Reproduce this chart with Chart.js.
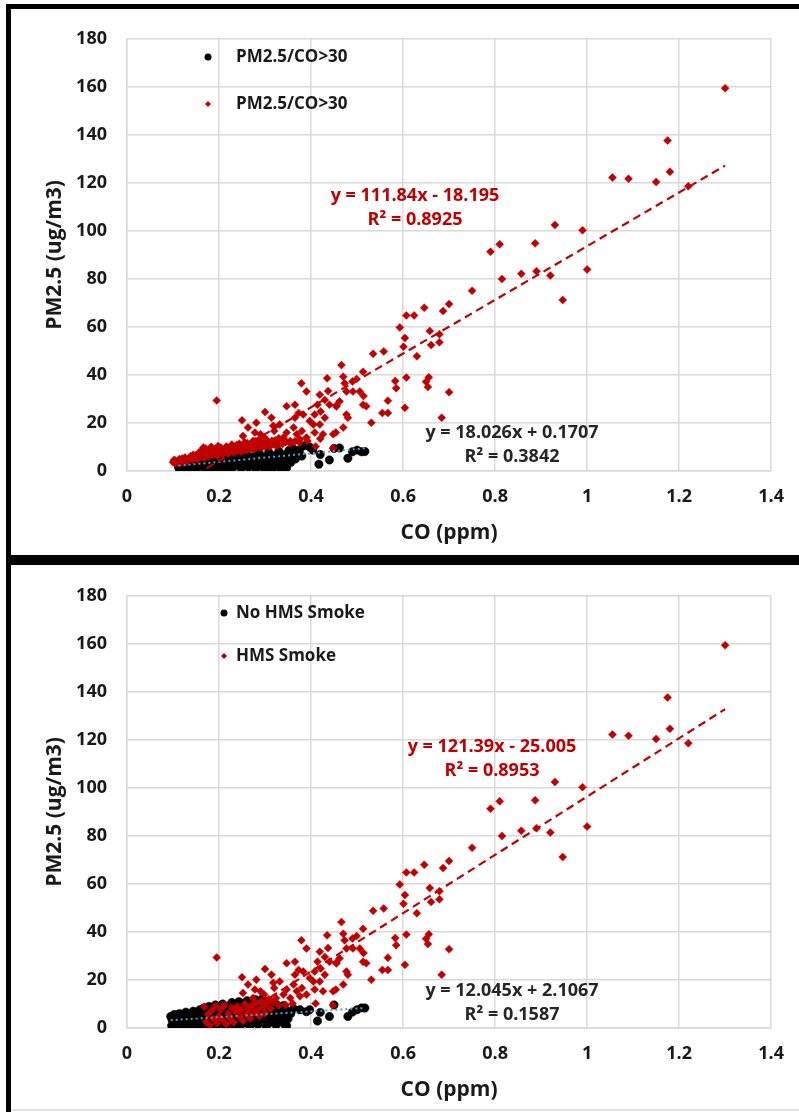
<!DOCTYPE html>
<html>
<head>
<meta charset="utf-8">
<script src="https://cdn.jsdelivr.net/npm/chart.js@4.4.1/dist/chart.umd.min.js"></script>
<style>
  body { margin: 0; background: #fff; width: 799px; height: 1112px; position: relative; overflow: hidden; }
  .band { position: absolute; background: #000; }
  .panel { position: absolute; left: 11px; }
</style>
</head>
<body>
<div class="panel" style="top:8px"><canvas id="topChart" width="788" height="547"></canvas></div>
<div class="panel" style="top:565px"><canvas id="bottomChart" width="788" height="547"></canvas></div>
<div class="band" style="left:6px;top:4px;width:793px;height:5px"></div>
<div class="band" style="left:6px;top:4px;width:5px;height:1108px"></div>
<div class="band" style="left:6px;top:555px;width:793px;height:10px"></div>
<div style="position:absolute;left:11px;top:1109px;width:788px;height:2px;background:#e2e2e2"></div>

<script>
// smoke-affected points above the dense cluster (same in both panels)
const smokeHigh = [
  [1.300,159.4],[1.175,137.6],[1.180,124.6],[1.150,120.4],[1.220,118.6],[1.055,122.2],[1.090,121.7],
  [0.930,102.5],[0.990,100.3],[0.887,94.8],[0.810,94.4],[0.790,91.3],[1.000,83.9],[0.815,80.0],
  [0.857,82.1],[0.890,83.2],[0.920,81.4],[0.947,71.2],[0.750,75.1],[0.700,69.5],[0.687,66.6],
  [0.646,68.0],[0.624,64.8],[0.607,64.8],[0.593,59.8],[0.604,55.4],[0.601,51.7],[0.630,47.8],
  [0.658,58.3],[0.679,57.0],[0.679,53.6],[0.661,52.5],[0.607,38.9],[0.656,39.0],[0.650,37.2],
  [0.654,35.0],[0.700,32.8],[0.604,26.3],[0.684,22.2],
  [0.535,48.8],[0.558,49.8],[0.583,37.5],[0.585,34.5],[0.567,29.3],[0.555,24.2],[0.567,24.2],
  [0.531,20.1],[0.513,27.6],[0.520,27.0],[0.514,31.2],[0.506,33.1],[0.513,41.3],[0.499,38.3],
  [0.490,37.3],[0.491,33.1],[0.466,44.1],[0.470,39.3],[0.473,36.5],[0.477,33.1],[0.462,29.0],
  [0.455,27.3],[0.477,23.5],[0.480,22.2],[0.470,18.1],[0.448,15.3],[0.454,16.0],[0.435,38.6],
  [0.437,33.3],[0.430,29.6],[0.440,27.6],[0.455,26.9],[0.419,31.8],[0.414,27.6],[0.421,24.8],
  [0.408,23.5],[0.430,22.2],[0.419,19.4],[0.405,19.4],[0.426,15.3],[0.408,16.0],[0.379,36.5],
  [0.390,33.1],[0.365,27.6],[0.347,27.0],[0.373,24.2],[0.383,23.5],[0.365,22.2],[0.397,20.8],
  [0.362,18.1],[0.380,16.7],[0.347,16.0],[0.369,15.3],[0.340,13.9],[0.355,12.5],[0.376,13.2],
  [0.390,13.9],[0.300,24.6],[0.314,22.2],[0.318,18.8],[0.320,16.7],[0.332,19.4],[0.281,20.1],
  [0.250,21.1],[0.195,29.4],[0.263,18.1],[0.252,14.6],[0.278,16.0],[0.290,15.3],[0.298,13.9],
  [0.274,12.5],[0.448,9.5],[0.410,10.2]
];

// top panel: low-CO points with ratio above 30 (red)
const ratioHighLow = [
  [0.100,3.6],[0.102,4.6],[0.105,3.2],[0.110,4.1],[0.114,5.0],[0.118,3.9],[0.122,4.5],[0.126,5.6],
  [0.130,4.2],[0.134,5.0],[0.138,6.1],[0.142,4.6],[0.146,5.5],[0.150,6.6],[0.153,4.9],[0.156,7.6],
  [0.159,5.8],[0.162,8.6],[0.165,6.7],[0.168,5.4],[0.171,9.4],[0.174,7.6],[0.177,6.0],[0.180,8.5],
  [0.183,10.1],[0.186,6.6],[0.189,7.8],[0.192,9.2],[0.196,6.3],[0.200,8.4],[0.204,9.8],[0.208,7.0],
  [0.212,8.8],[0.216,10.2],[0.220,7.2],[0.224,9.2],[0.228,11.0],[0.232,7.6],[0.236,9.6],[0.240,8.3],
  [0.244,11.4],[0.248,8.0],[0.252,10.2],[0.256,12.0],[0.260,8.6],[0.264,10.6],[0.268,9.2],[0.272,11.4],
  [0.276,9.0],[0.280,12.4],[0.284,10.0],[0.288,11.2],[0.292,9.6],[0.296,12.8],[0.300,10.4],[0.305,11.8],
  [0.310,10.0],[0.315,12.6],[0.320,11.0],[0.326,10.4],[0.332,12.2],[0.338,11.2],[0.345,12.0],[0.355,11.4],
  [0.365,12.4],[0.375,11.8],[0.392,12.5],[0.420,13.4],
  [0.105,4.4],[0.112,3.4],[0.120,5.2],[0.128,4.0],[0.136,5.4],[0.144,6.8],[0.152,5.8],[0.160,7.0],
  [0.166,9.8],[0.172,6.4],[0.178,7.2],[0.186,9.0],[0.194,7.4],[0.198,10.4],[0.206,8.4],[0.214,9.4],
  [0.222,8.2],[0.230,10.0],[0.238,10.8],[0.246,9.4],[0.254,8.8],[0.262,11.6],[0.270,10.2],[0.278,12.2],
  [0.286,12.8],[0.294,10.8],[0.302,13.2],[0.312,11.4],[0.322,12.8],[0.330,13.6],[0.342,13.0]
];

// top panel: ratio below 30 (black)
const ratioLow = [
  [0.112,1.6],[0.115,2.8],[0.119,1.1],[0.122,2.2],[0.126,3.1],[0.129,1.4],[0.133,2.5],[0.136,0.9],
  [0.139,3.4],[0.142,1.9],[0.146,2.9],[0.149,0.7],[0.152,1.6],[0.155,3.8],[0.158,2.4],[0.161,1.1],
  [0.164,3.2],[0.167,4.4],[0.170,2.0],[0.173,0.6],[0.176,3.6],[0.179,1.5],[0.182,4.8],[0.185,2.7],
  [0.188,1.0],[0.191,3.9],[0.194,5.2],[0.197,2.2],[0.200,0.8],[0.203,3.4],[0.206,5.6],[0.209,1.6],
  [0.212,4.5],[0.216,2.8],[0.220,0.9],[0.224,5.9],[0.228,3.6],[0.232,1.8],[0.236,4.8],[0.240,6.4],
  [0.244,2.6],[0.248,1.0],[0.252,5.4],[0.256,3.6],[0.260,6.9],[0.264,1.6],[0.268,4.4],[0.272,2.8],
  [0.276,6.2],[0.280,0.9],[0.284,5.0],[0.288,7.3],[0.292,3.2],[0.296,1.5],[0.300,5.8],[0.304,4.0],
  [0.308,7.8],[0.312,2.2],[0.316,0.8],[0.320,6.4],[0.325,4.6],[0.330,8.2],[0.335,2.8],[0.340,6.8],
  [0.345,5.0],[0.347,1.4],[0.352,8.6],[0.358,6.2],[0.362,9.2],[0.370,7.6],[0.385,10.5],[0.397,10.0],
  [0.404,8.7],[0.417,2.8],[0.420,6.9],[0.440,4.6],[0.450,9.4],[0.462,9.6],[0.480,5.3],[0.490,8.0],
  [0.500,8.7],[0.510,8.0],[0.517,8.1],
  [0.114,0.5],[0.124,0.6],[0.131,2.0],[0.144,1.2],[0.157,0.4],[0.163,2.6],[0.178,2.8],[0.186,3.8],
  [0.196,4.4],[0.204,2.2],[0.218,4.0],[0.226,1.2],[0.234,3.0],[0.242,4.2],[0.250,2.2],[0.258,4.8],
  [0.266,5.8],[0.274,4.2],[0.282,2.4],[0.290,5.6],[0.298,3.0],[0.306,1.0],[0.314,5.2],[0.322,3.0],
  [0.328,6.0],[0.334,1.0],[0.342,4.0],[0.350,6.4],[0.356,3.6],[0.366,5.0],[0.375,8.8],[0.380,6.2]
];

// bottom panel: no HMS smoke (black)
const noSmoke = [
  [0.095,4.8],[0.098,3.4],[0.100,2.2],[0.103,5.6],[0.106,1.4],[0.108,4.0],[0.111,2.8],[0.114,6.0],
  [0.117,0.8],[0.119,3.6],[0.122,5.0],[0.125,1.9],[0.128,6.6],[0.130,3.0],[0.133,0.6],[0.136,4.4],
  [0.139,5.8],[0.141,2.2],[0.144,7.0],[0.147,1.2],[0.150,3.8],[0.153,5.4],[0.156,0.5],[0.158,7.6],
  [0.161,2.8],[0.164,4.6],[0.167,8.4],[0.169,1.5],[0.172,6.2],[0.175,3.4],[0.178,9.0],[0.180,0.7],
  [0.183,5.2],[0.186,7.4],[0.189,2.4],[0.192,9.6],[0.194,4.2],[0.197,6.6],[0.200,1.2],[0.203,8.4],
  [0.205,3.2],[0.208,10.0],[0.211,5.6],[0.214,0.6],[0.217,7.6],[0.220,2.6],[0.222,9.2],[0.225,4.6],
  [0.228,10.6],[0.231,1.4],[0.234,6.4],[0.237,8.4],[0.240,3.4],[0.243,11.0],[0.246,0.8],[0.249,5.4],
  [0.252,9.6],[0.255,2.2],[0.258,7.2],[0.261,11.4],[0.264,4.2],[0.267,0.6],[0.270,8.8],[0.273,6.0],
  [0.276,2.8],[0.279,11.8],[0.282,10.0],[0.285,1.4],[0.288,5.0],[0.291,7.8],[0.294,12.2],[0.297,3.6],
  [0.300,9.4],[0.303,0.7],[0.306,6.4],[0.309,11.2],[0.312,2.4],[0.315,8.2],[0.318,4.6],[0.321,10.4],
  [0.324,1.2],[0.327,6.8],[0.330,3.2],[0.334,8.8],[0.338,5.0],[0.342,1.6],[0.346,7.4],[0.350,3.8],
  [0.347,0.9],[0.356,6.0],[0.362,8.0],[0.376,7.6],[0.390,6.8],[0.397,7.6],[0.414,2.9],[0.420,6.5],
  [0.440,4.8],[0.450,9.6],[0.480,4.8],[0.490,6.6],[0.500,7.6],[0.510,8.4],[0.517,8.3],
  [0.097,1.0],[0.102,3.0],[0.109,5.0],[0.113,1.8],[0.120,4.4],[0.127,2.8],[0.134,5.4],[0.138,1.6],
  [0.145,3.2],[0.149,6.2],[0.155,2.0],[0.160,5.0],[0.166,6.8],[0.171,3.0],[0.177,4.4],[0.182,8.0],
  [0.188,5.8],[0.193,1.6],[0.198,8.8],[0.202,4.6],[0.207,6.8],[0.213,9.0],[0.219,4.0],[0.224,6.2],
  [0.230,8.4],[0.236,2.4],[0.242,7.8],[0.248,10.4],[0.254,4.0],[0.260,8.6],[0.266,10.6],[0.272,2.0],
  [0.278,7.0],[0.284,11.0],[0.290,9.6],[0.296,5.8],[0.302,11.0],[0.308,3.4],[0.314,10.2],[0.320,7.4],
  [0.326,9.6],[0.332,6.2],[0.340,9.4],[0.348,5.6]
];

// bottom panel: low-CO points with HMS smoke (red)
const smokeLow = [
  [0.168,8.8],[0.172,2.6],[0.176,5.6],[0.180,1.2],[0.184,7.2],[0.188,3.8],[0.192,9.2],[0.196,2.0],
  [0.200,5.0],[0.204,7.8],[0.208,3.2],[0.212,9.6],[0.216,1.6],[0.220,6.0],[0.224,4.2],[0.228,8.4],
  [0.232,2.4],[0.236,6.8],[0.240,9.0],[0.244,4.8],[0.248,7.4],[0.252,3.0],[0.256,10.0],[0.260,5.8],
  [0.264,8.0],[0.268,4.0],[0.272,9.6],[0.276,6.4],[0.280,10.6],[0.284,7.6],[0.288,5.0],[0.292,11.0],
  [0.296,8.6],[0.300,6.2],[0.304,10.2],[0.308,12.0],[0.312,8.0],[0.318,10.8],[0.324,12.4],[0.330,9.4],
  [0.345,9.6],[0.360,10.2]
];

// linear trendlines: [slope, intercept], x range
const topRedFit = [111.84, -18.195], topRedRange = [0.100, 1.300];
const topBlackFit = [18.026, 0.1707], topBlackRange = [0.112, 0.517];
const botRedFit = [121.39, -25.005], botRedRange = [0.168, 1.300];
const botBlackFit = [12.045, 2.1067], botBlackRange = [0.095, 0.517];

const topLabels = ['PM2.5/CO>30', 'PM2.5/CO>30'];
const bottomLabels = ['No HMS Smoke', 'HMS Smoke'];
const topRedEq = ['y = 111.84x - 18.195', 'R\u00B2 = 0.8925'];
const topBlackEq = ['y = 18.026x + 0.1707', 'R\u00B2 = 0.3842'];
const botRedEq = ['y = 121.39x - 25.005', 'R\u00B2 = 0.8953'];
const botBlackEq = ['y = 12.045x + 2.1067', 'R\u00B2 = 0.1587'];

const FONT = "'Open Sans', 'DejaVu Sans', sans-serif";
const RED = '#c00000';
const INK = '#1a1a1a';
const GRID = '#d9d9d9';

function toPoints(list) {
  return list.map(p => ({ x: p[0], y: p[1] }));
}

function fitLine(fit, range) {
  return range.map(x => ({ x: x, y: fit[0] * x + fit[1] }));
}

const overlay = {
  id: 'overlay',
  afterDatasetsDraw(chart, args, opts) {
    const ctx = chart.ctx;
    ctx.save();
    ctx.textBaseline = 'middle';
    opts.legend.forEach(item => {
      ctx.fillStyle = item.color;
      ctx.beginPath();
      if (item.style === 'circle') {
        ctx.arc(item.mx, item.y, 3.5, 0, Math.PI * 2);
      } else {
        ctx.moveTo(item.mx - 3, item.y);
        ctx.lineTo(item.mx, item.y - 3);
        ctx.lineTo(item.mx + 3, item.y);
        ctx.lineTo(item.mx, item.y + 3);
        ctx.closePath();
      }
      ctx.fill();
      ctx.fillStyle = INK;
      ctx.textAlign = 'left';
      ctx.font = 'bold 17px ' + FONT;
      ctx.fillText(item.text, item.tx, item.y);
    });
    opts.notes.forEach(n => {
      ctx.fillStyle = n.color;
      ctx.textAlign = 'center';
      ctx.font = 'bold 18px ' + FONT;
      n.lines.forEach((t, i) => ctx.fillText(t, n.x, n.y + i * 24));
    });
    ctx.restore();
  }
};

function makeChart(id, blackPts, redPts, blackLine, redLine, legend, notes) {
  const tickFont = { family: FONT, size: 18, weight: 'bold' };
  const titleFont = { family: FONT, size: 21, weight: 'bold' };
  return new Chart(document.getElementById(id), {
    type: 'scatter',
    data: {
      datasets: [
        {
          data: redLine, showLine: true, pointRadius: 0, borderColor: RED,
          borderWidth: 2.2, borderDash: [8, 5], order: 0
        },
        {
          data: blackLine, showLine: true, pointRadius: 0, borderColor: '#5b9bd5',
          borderWidth: 2, borderDash: [2, 3], order: 0
        },
        {
          data: redPts, pointStyle: 'rectRot', pointRadius: 4, backgroundColor: RED,
          borderColor: RED, borderWidth: 0.5, order: 1
        },
        {
          data: blackPts, pointStyle: 'circle', pointRadius: 4.2, backgroundColor: '#000',
          borderColor: '#000', borderWidth: 0.5, order: 2
        }
      ]
    },
    options: {
      responsive: false,
      animation: false,
      events: [],
      layout: { padding: { top: 24, right: 27, left: 0, bottom: 0 } },
      scales: {
        x: {
          type: 'linear', min: 0, max: 1.4,
          ticks: { stepSize: 0.2, padding: 15, color: INK, font: tickFont, maxRotation: 0,
            callback: v => +v.toFixed(1) },
          grid: { color: GRID, lineWidth: 1.5, drawTicks: false },
          border: { color: GRID, width: 1.5 },
          title: { display: true, text: 'CO (ppm)', color: INK, font: titleFont,
            padding: { top: 9, bottom: 9 } },
          afterFit: s => { s.height = 84; }
        },
        y: {
          min: 0, max: 180,
          ticks: { stepSize: 20, padding: 20, color: INK, font: tickFont },
          grid: { color: GRID, lineWidth: 1.5, drawTicks: false },
          border: { color: GRID, width: 1.5 },
          title: { display: true, text: 'PM2.5 (ug/m3)', color: INK, font: titleFont,
            padding: { top: 31, bottom: 31 } },
          afterFit: s => { s.width = 116; }
        }
      },
      plugins: {
        legend: { display: false },
        tooltip: { enabled: false },
        overlay: { legend: legend, notes: notes }
      }
    },
    plugins: [overlay]
  });
}

makeChart('topChart',
  toPoints(ratioLow),
  toPoints(smokeHigh.concat(ratioHighLow)),
  fitLine(topBlackFit, topBlackRange),
  fitLine(topRedFit, topRedRange),
  [
    { style: 'circle', color: '#000', mx: 197, tx: 225, y: 49, text: topLabels[0] },
    { style: 'diamond', color: RED, mx: 197, tx: 225, y: 96, text: topLabels[1] }
  ],
  [
    { color: RED, x: 404, y: 188, lines: topRedEq },
    { color: '#262626', x: 501, y: 425, lines: topBlackEq }
  ]
);

makeChart('bottomChart',
  toPoints(noSmoke),
  toPoints(smokeHigh.concat(smokeLow)),
  fitLine(botBlackFit, botBlackRange),
  fitLine(botRedFit, botRedRange),
  [
    { style: 'circle', color: '#000', mx: 213, tx: 225, y: 48, text: bottomLabels[0] },
    { style: 'diamond', color: RED, mx: 213, tx: 225, y: 91, text: bottomLabels[1] }
  ],
  [
    { color: RED, x: 481, y: 182, lines: botRedEq },
    { color: '#262626', x: 501, y: 426, lines: botBlackEq }
  ]
);
</script>
</body>
</html>
